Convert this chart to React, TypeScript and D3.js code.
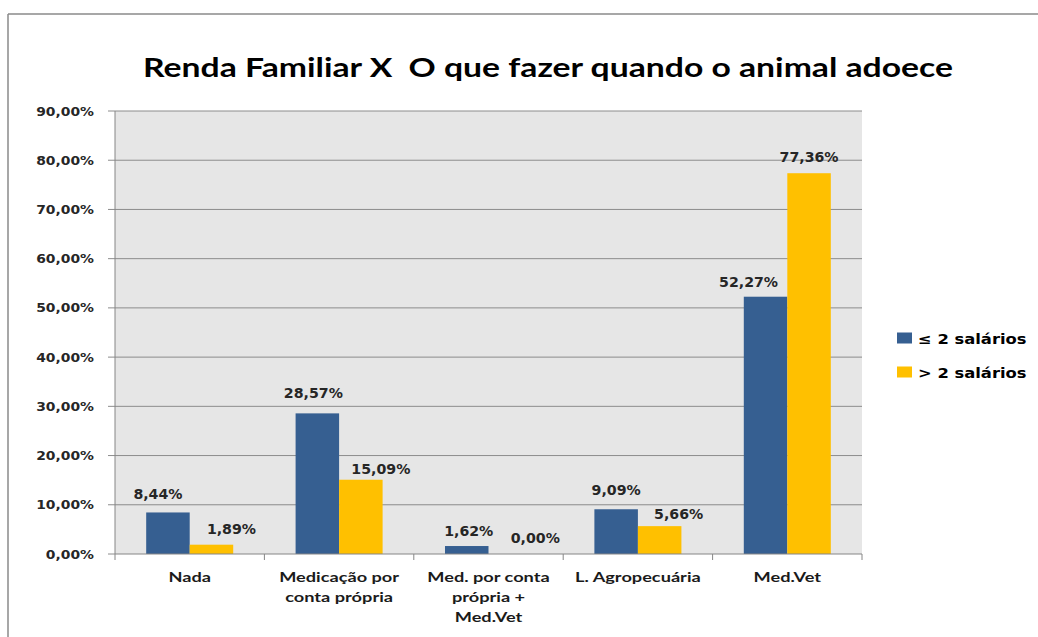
import React from "react";
import * as d3 from "d3";

const title = "Renda Familiar X  O que fazer quando o animal adoece";
const categories = [
  ["Nada"],
  ["Medicação por", "conta própria"],
  ["Med. por conta", "própria +", "Med.Vet"],
  ["L. Agropecuária"],
  ["Med.Vet"],
];
const seriesNames = ["≤ 2 salários", "> 2 salários"];
const lowIncome = [8.44, 28.57, 1.62, 9.09, 52.27];
const highIncome = [1.89, 15.09, 0.0, 5.66, 77.36];
const yTicks = [0, 10, 20, 30, 40, 50, 60, 70, 80, 90];

// manual label nudges (layout only)
const labelDx = [
  [-10, -4, 2, 0, -17],
  [20, 20, 25, 19, 0],
];
const labelGap = [
  [13, 15, 10, 14, 10],
  [11, 6, 11, 7, 11],
];

const colors = ["#365F91", "#FFC000"];
const W = 1038;
const H = 637;
const plot = { left: 115, right: 862, top: 111, bottom: 554 };

const fmt = (v: number) => v.toFixed(2).replace(".", ",") + "%";

export default function App() {
  const series = [lowIncome, highIncome];
  const x0 = d3
    .scaleBand<number>()
    .domain(d3.range(categories.length))
    .range([plot.left, plot.right])
    .padding(0);
  const x1 = d3
    .scaleBand<number>()
    .domain([0, 1])
    .range([0, x0.bandwidth()])
    .paddingInner(0)
    .paddingOuter(0.717);
  const y = d3.scaleLinear().domain([0, 90]).range([plot.bottom, plot.top]);

  const boundaries = d3.range(categories.length + 1).map((i) =>
    i < categories.length ? (x0(i) as number) : plot.right
  );

  const labelFont = "'DejaVu Sans', Verdana, sans-serif";

  return (
    <svg
      width={W}
      height={H}
      style={{ position: "absolute", left: 0, top: 0, background: "#fff" }}
    >
      {/* outer frame */}
      <line x1={8} y1={14} x2={W} y2={14} stroke="#8a8a8a" strokeWidth={1.5} />
      <line x1={8} y1={14} x2={8} y2={H} stroke="#8a8a8a" strokeWidth={1.5} />

      {/* title */}
      <text
        x={143}
        y={77}
        fontFamily="Lato, sans-serif"
        fontWeight="bold"
        fontSize={26}
        fill="#000"
        textLength={810}
        lengthAdjust="spacingAndGlyphs"
        style={{ whiteSpace: "pre" }}
      >
        {title}
      </text>

      {/* plot background */}
      <rect
        x={plot.left}
        y={plot.top}
        width={plot.right - plot.left}
        height={plot.bottom - plot.top}
        fill="#e6e6e6"
      />

      {/* gridlines */}
      {yTicks.map((t) => (
        <line
          key={"g" + t}
          x1={plot.left - 7}
          x2={t === 0 ? plot.left : plot.right}
          y1={y(t)}
          y2={y(t)}
          stroke="#8c8c8c"
          strokeWidth={1}
        />
      ))}

      {/* y tick labels */}
      {yTicks.map((t) => (
        <text
          key={"yl" + t}
          transform={`translate(94,${y(t) + 4.5}) scale(1.13,1)`}
          textAnchor="end"
          fontFamily={labelFont}
          fontWeight="bold"
          fontSize={12.3}
          fill="#262626"
        >
          {fmt(t)}
        </text>
      ))}

      {/* bars */}
      {series.map((vals, s) =>
        vals.map((v, i) => (
          <rect
            key={`b${s}-${i}`}
            x={(x0(i) as number) + (x1(s) as number)}
            y={y(v)}
            width={x1.bandwidth()}
            height={plot.bottom - y(v)}
            fill={colors[s]}
          />
        ))
      )}

      {/* axes */}
      <line x1={plot.left} x2={plot.left} y1={plot.top} y2={plot.bottom} stroke="#868686" strokeWidth={1} />
      <line x1={plot.left} x2={plot.right} y1={plot.bottom} y2={plot.bottom} stroke="#868686" strokeWidth={1} />
      {boundaries.map((bx, i) => (
        <line key={"xt" + i} x1={bx} x2={bx} y1={plot.bottom} y2={plot.bottom + 6} stroke="#868686" strokeWidth={1} />
      ))}

      {/* data labels */}
      {series.map((vals, s) =>
        vals.map((v, i) => {
          const cx = (x0(i) as number) + (x1(s) as number) + x1.bandwidth() / 2 + labelDx[s][i];
          const by = y(v) - labelGap[s][i];
          return (
            <text
              key={`l${s}-${i}`}
              transform={`translate(${cx},${by}) scale(1.05,1)`}
              textAnchor="middle"
              fontFamily={labelFont}
              fontWeight="bold"
              fontSize={13.5}
              fill="#262626"
            >
              {fmt(v)}
            </text>
          );
        })
      )}

      {/* category labels */}
      {categories.map((lines, i) => {
        const cx = (x0(i) as number) + x0.bandwidth() / 2;
        return lines.map((ln, k) => (
          <text
            key={`c${i}-${k}`}
            transform={`translate(${cx},${582 + k * 20}) scale(1.3,1)`}
            textAnchor="middle"
            fontFamily="Lato, sans-serif"
            fontWeight="bold"
            fontSize={14}
            fill="#1a1a1a"
          >
            {ln}
          </text>
        ));
      })}

      {/* legend */}
      {seriesNames.map((name, s) => {
        const cy = 338 + s * 34;
        return (
          <g key={"lg" + s}>
            <rect x={897} y={cy - 5.5} width={15} height={11} fill={colors[s]} />
            <text
              transform={`translate(918,${cy + 5.5}) scale(1.17,1)`}
              fontFamily={labelFont}
              fontWeight="bold"
              fontSize={14}
              fill="#000"
            >
              {name}
            </text>
          </g>
        );
      })}
    </svg>
  );
}
